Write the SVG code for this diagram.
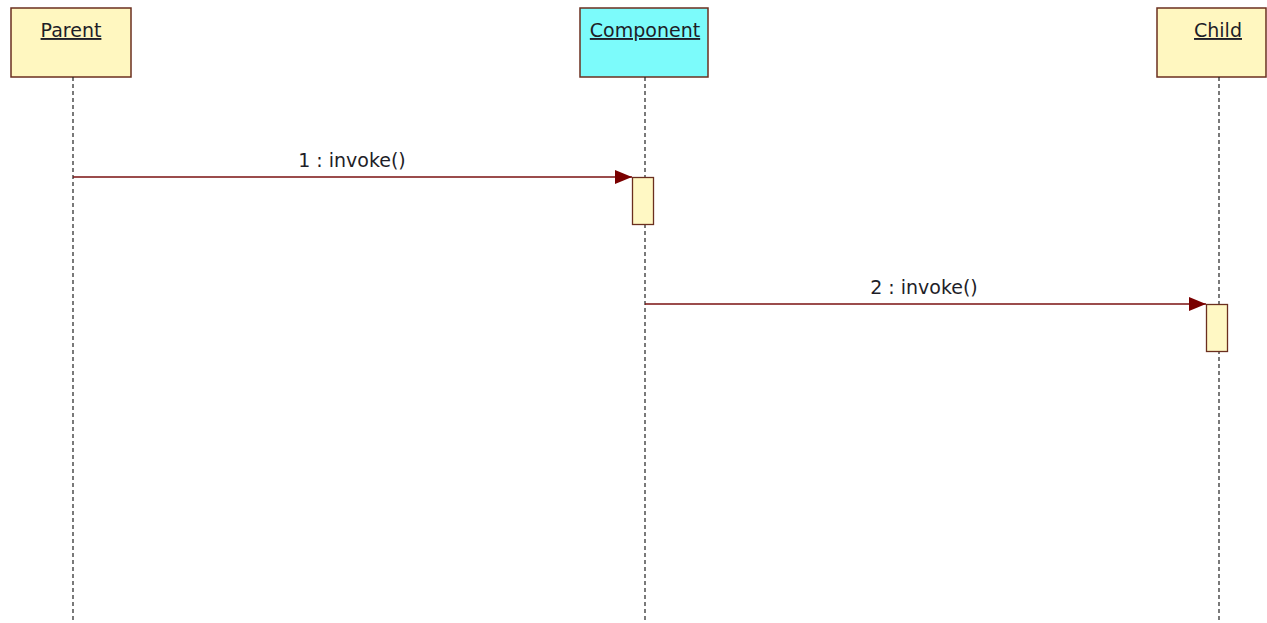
<svg xmlns="http://www.w3.org/2000/svg" width="1267" height="623" viewBox="0 0 1267 623">
<defs>
<style>
.box{stroke:#6b2f1f;stroke-width:1.5}
.lbl{font-family:"DejaVu Sans","Liberation Sans",sans-serif;font-size:19px;fill:#1e1e28;text-anchor:middle}
.life{stroke:#222;stroke-width:1.2;stroke-dasharray:4,3;fill:none}
.msg{stroke:#7a1010;stroke-width:1.3;fill:none}
.act{fill:#fff8c4;stroke:#6b2f1f;stroke-width:1.3}
</style>
<marker id="ah" markerWidth="18" markerHeight="14" refX="17" refY="7" orient="auto" markerUnits="userSpaceOnUse">
<path d="M0,0 L17,7 L0,14 z" fill="#7a0000"/>
</marker>
</defs>
<rect width="1267" height="623" fill="#ffffff"/>
<g id="parent">
<rect class="box" x="11" y="8" width="120" height="69" fill="#fff7c0"/>
<text class="lbl" x="71" y="37" text-decoration="underline">Parent</text>
<line class="life" x1="73" y1="77" x2="73" y2="623"/>
</g>
<g id="component">
<rect class="box" x="580" y="8" width="128" height="69" fill="#7cfbfb"/>
<text class="lbl" x="645" y="37" text-decoration="underline">Component</text>
<line class="life" x1="645" y1="77" x2="645" y2="623"/>
<rect class="act" x="632.5" y="177.5" width="21" height="47"/>
</g>
<g id="child">
<rect class="box" x="1157" y="8" width="109" height="69" fill="#fff7c0"/>
<text class="lbl" x="1218" y="37" text-decoration="underline">Child</text>
<line class="life" x1="1219" y1="77" x2="1219" y2="623"/>
<rect class="act" x="1206.5" y="304.5" width="21" height="47"/>
</g>
<g id="connectors">
<line class="msg" x1="73" y1="177" x2="632" y2="177" marker-end="url(#ah)"/>
<text class="lbl" x="352" y="167">1 : invoke()</text>
<line class="msg" x1="645" y1="304" x2="1206" y2="304" marker-end="url(#ah)"/>
<text class="lbl" x="924" y="294">2 : invoke()</text>
</g>
</svg>
